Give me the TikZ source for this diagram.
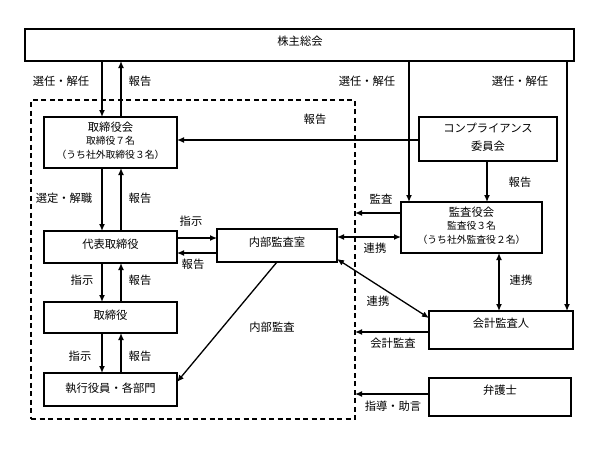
\documentclass[tikz,border=0pt]{standalone}
\usepackage{fontspec}
\setmainfont{Noto Sans CJK JP}
\usetikzlibrary{arrows.meta}
\tikzset{
  box/.style={draw, line width=1.6pt, rectangle, inner sep=0pt, outer sep=0pt},
  arr/.style={line width=1.3pt, -{Latex[length=7pt,width=6pt]}},
  darr/.style={line width=1.3pt, {Latex[length=7pt,width=6pt]}-{Latex[length=7pt,width=6pt]}},
  lbl/.style={font=\fontsize{11.3}{13}\selectfont, inner sep=0pt},
  txt/.style={font=\fontsize{11.3}{13}\selectfont, inner sep=0pt, align=center},
  small/.style={font=\fontsize{9.8}{11}\selectfont, inner sep=0pt},
  dashbox/.style={draw, line width=1.3pt, dash pattern=on 5pt off 3.5pt, inner sep=0pt, outer sep=0pt}
}
\begin{document}
\begin{tikzpicture}[x=1pt,y=-1pt]
\useasboundingbox[fill=white] (0,0) rectangle (602,448);
% dashed region
\node[dashbox, minimum width=324pt, minimum height=319pt] (dash) at (193,259.5) {};
% boxes
\node[box, minimum width=549pt, minimum height=32pt] (gm) at (299.5,45) {};
\node[txt] (gmt) at (300,41) {株主総会};
\node[box, minimum width=133pt, minimum height=51pt] (bod) at (110.5,142.5) {};
\node[txt] (bodt1) at (110.5,127) {取締役会};
\node[small] (bodt2) at (110.5,141) {取締役７名};
\node[small] (bodt3) at (110.5,155) {（うち社外取締役３名）};
\node[box, minimum width=133pt, minimum height=32pt] (ceo) at (110.5,247) {};
\node[txt] (ceot) at (110.5,244) {代表取締役};
\node[box, minimum width=133pt, minimum height=31pt] (dir) at (110.5,317.5) {};
\node[txt] (dirt) at (110.5,315) {取締役};
\node[box, minimum width=133pt, minimum height=33pt] (exe) at (110.5,389.5) {};
\node[txt] (exet) at (110.5,388) {執行役員・各部門};
\node[box, minimum width=120pt, minimum height=33pt] (ia) at (277,245.5) {};
\node[txt] (iat) at (277,242) {内部監査室};
\node[box, minimum width=138pt, minimum height=44pt] (comp) at (488,139) {};
\node[txt] (compt1) at (488,128) {コンプライアンス};
\node[txt] (compt2) at (488,146) {委員会};
\node[box, minimum width=141pt, minimum height=51pt] (kansa) at (471.5,227.5) {};
\node[txt] (kansat1) at (471.5,212) {監査役会};
\node[small] (kansat2) at (471.5,226) {監査役３名};
\node[small] (kansat3) at (471.5,240) {（うち社外監査役２名）};
\node[box, minimum width=144pt, minimum height=38pt] (acct) at (501,330) {};
\node[txt] (acctt) at (501,323) {会計監査人};
\node[box, minimum width=142pt, minimum height=38pt] (law) at (500,397) {};
\node[txt] (lawt) at (500,390) {弁護士};
% vertical pairs
\draw[arr] (gm.south -| 102,0) -- (bod.north -| 102,0);
\draw[arr] (bod.north -| 121,0) -- (gm.south -| 121,0);
\draw[arr] (bod.south -| 102,0) -- (ceo.north -| 102,0);
\draw[arr] (ceo.north -| 121,0) -- (bod.south -| 121,0);
\draw[arr] (ceo.south -| 102,0) -- (dir.north -| 102,0);
\draw[arr] (dir.north -| 121,0) -- (ceo.south -| 121,0);
\draw[arr] (dir.south -| 102,0) -- (exe.north -| 102,0);
\draw[arr] (exe.north -| 121,0) -- (dir.south -| 121,0);
% compliance -> board
\draw[arr] (comp.west |- 0,140) -- (bod.east |- 0,140);
% shareholders -> kansa, acct
\draw[arr] (gm.south -| 409,0) -- (kansa.north -| 409,0);
\draw[arr] (gm.south -| 567,0) -- (acct.north -| 567,0);
% compliance -> kansa
\draw[arr] (comp.south -| 487,0) -- (kansa.north -| 487,0);
% kansa -> dashed
\draw[arr] (kansa.west |- 0,213) -- (dash.east |- 0,213);
\draw[darr] (ia.east |- 0,237) -- (kansa.west |- 0,237);
% ceo <-> ia
\draw[arr] (ceo.east |- 0,238) -- (ia.west |- 0,238);
\draw[arr] (ia.west |- 0,253) -- (ceo.east |- 0,253);
% internal audit diagonal
\draw[arr] (ia.south) -- (exe.east |- 0,382);
% ia <-> acct diagonal
\draw[darr] (ia.east |- 0,259) -- (acct.west |- 0,318);
% kansa <-> acct
\draw[darr] (kansa.south -| 499,0) -- (acct.north -| 499,0);
% acct -> dashed, law -> dashed
\draw[arr] (acct.west |- 0,332) -- (dash.east |- 0,332);
\draw[arr] (law.west |- 0,394) -- (dash.east |- 0,394);
% labels
\node[lbl] (l1) at (61,81) {選任・解任};
\node[lbl] (l2) at (140,81) {報告};
\node[lbl] (l3) at (367,81) {選任・解任};
\node[lbl] (l4) at (520,81) {選任・解任};
\node[lbl] (l5) at (315,119) {報告};
\node[lbl] (l6) at (64,198) {選定・解職};
\node[lbl] (l7) at (140,198) {報告};
\node[lbl] (l8) at (191,221) {指示};
\node[lbl] (l9) at (193,264) {報告};
\node[lbl] (l10) at (381,199) {監査};
\node[lbl] (l11) at (375,248) {連携};
\node[lbl] (l12) at (520,182) {報告};
\node[lbl] (l13) at (82,280) {指示};
\node[lbl] (l14) at (140,280) {報告};
\node[lbl] (l15) at (272,327) {内部監査};
\node[lbl] (l16) at (378,301) {連携};
\node[lbl] (l17) at (521,280) {連携};
\node[lbl] (l18) at (393,343) {会計監査};
\node[lbl] (l19) at (80,356) {指示};
\node[lbl] (l20) at (140,356) {報告};
\node[lbl] (l21) at (393,406) {指導・助言};
\end{tikzpicture}
\end{document}
